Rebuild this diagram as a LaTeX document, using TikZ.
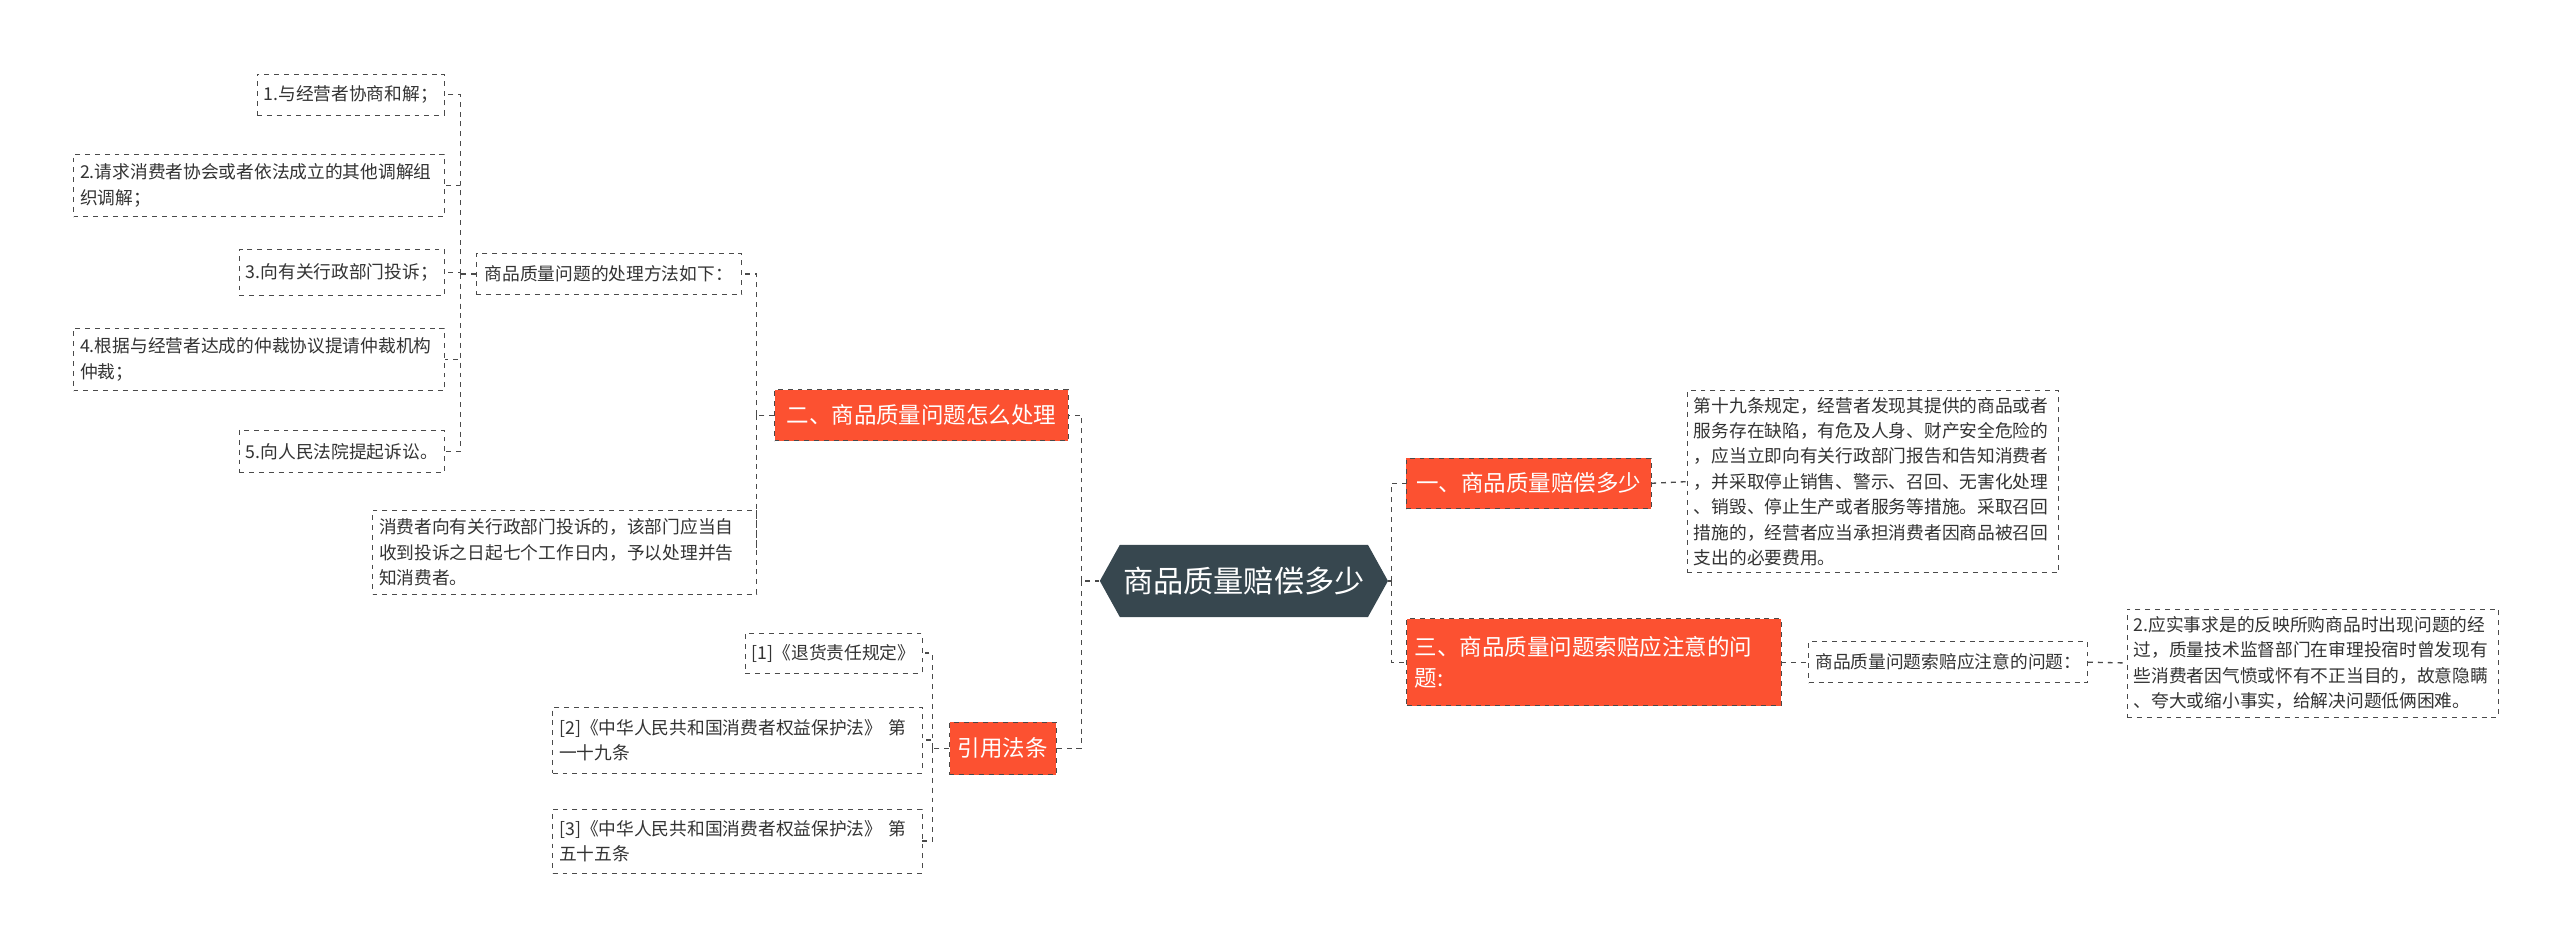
\documentclass[tikz,border=0pt]{standalone}
\usepackage{fontspec}
\setmainfont{Noto Sans CJK SC}
\usetikzlibrary{shapes.symbols}
\definecolor{rootc}{HTML}{37474F}
\definecolor{hotc}{HTML}{FC5131}
\definecolor{linec}{HTML}{4A4A4A}
\tikzset{
  leaf/.style={draw=linec, dashed, fill=white, inner sep=4pt, align=left,
    font=\fontsize{10.8}{15.5}\selectfont, text=black!80},
  topic/.style={draw=linec, dashed, fill=hotc, text=white, inner sep=5pt,
    align=left, font=\fontsize{13.7}{19}\selectfont},
  link/.style={draw=linec, dashed, thick}
}

\begin{document}
\begin{tikzpicture}[x=1pt, y=-1pt]
  \useasboundingbox (0,0) rectangle (1560,576.5);
  \node[signal, signal to=west and east, signal pointer angle=122, fill=rootc,
    text=white, minimum width=174pt, minimum height=44pt, inner sep=2pt,
    font=\fontsize{18.4}{20}\selectfont] at (758,354) (root) {商品质量赔偿多少};

  % left side
  \node[topic, minimum width=179pt, minimum height=31pt] at (561.5,253) (how)
    {二、商品质量问题怎么处理};
  \node[topic, minimum width=58pt, minimum height=32pt] at (611,456) (law)
    {引用法条};
  \node[leaf, minimum width=162pt, minimum height=25pt] at (371,167) (method)
    {商品质量问题的处理方法如下：};
  \node[leaf, anchor=east, minimum height=25pt] at (271,57.5) (m1)
    {1.与经营者协商和解；};
  \node[leaf, anchor=east, text width=218pt, minimum height=38pt] at (271,113) (m2)
    {2.请求消费者协会或者依法成立的其他调解组\\织调解；};
  \node[leaf, anchor=east, minimum height=28pt] at (271,166) (m3)
    {3.向有关行政部门投诉；};
  \node[leaf, anchor=east, text width=218pt, minimum height=38pt] at (271,219) (m4)
    {4.根据与经营者达成的仲裁协议提请仲裁机构\\仲裁；};
  \node[leaf, anchor=east, minimum height=26pt] at (271,275) (m5)
    {5.向人民法院提起诉讼。};
  \node[leaf, text width=226pt, minimum height=51pt] at (344,336.5) (notice)
    {消费者向有关行政部门投诉的，该部门应当自\\收到投诉之日起七个工作日内，予以处理并告\\知消费者。};
  \node[leaf, anchor=east, minimum height=24pt] at (562,398) (l1)
    {[1]《退货责任规定》};
  \node[leaf, anchor=east, text width=217pt, minimum height=40pt] at (562,451) (l2)
    {[2]《中华人民共和国消费者权益保护法》 第\\一十九条};
  \node[leaf, anchor=east, text width=217pt, minimum height=39pt] at (562,512.5) (l3)
    {[3]《中华人民共和国消费者权益保护法》 第\\五十五条};

  % right side
  \node[topic, minimum width=149pt, minimum height=31pt] at (931.5,294.5) (pay)
    {一、商品质量赔偿多少};
  \node[topic, anchor=west, text width=218pt, minimum height=53pt] at (857,403.5)
    (claim) {三、商品质量问题索赔应注意的问\\题:};
  \node[leaf, anchor=west, text width=218pt, minimum height=107pt] at (1028,293.5)
    (rule) {第十九条规定，经营者发现其提供的商品或者\\服务存在缺陷，有危及人身、财产安全危险的\\，应当立即向有关行政部门报告和告知消费者\\，并采取停止销售、警示、召回、无害化处理\\、销毁、停止生产或者服务等措施。采取召回\\措施的，经营者应当承担消费者因商品被召回\\支出的必要费用。};
  \node[leaf, anchor=west, minimum height=25pt] at (1102,403.5) (attn)
    {商品质量问题索赔应注意的问题：};
  \node[leaf, anchor=west, text width=218pt, minimum height=66pt] at (1296,404)
    (fact) {2.应实事求是的反映所购商品时出现问题的经\\过，质量技术监督部门在审理投宿时曾发现有\\些消费者因气愤或怀有不正当目的，故意隐瞒\\、夸大或缩小事实，给解决问题低俩困难。};

  % connectors
  \draw[link] (root.west) -- ++(-11,0) coordinate (jl);
  \draw[link] (jl) |- (how.east);
  \draw[link] (jl) |- (law.east);
  \draw[link] (root.east) -- ++(2,0) coordinate (jr);
  \draw[link] (jr) |- (pay.west);
  \draw[link] (jr) |- (claim.west);
  \draw[link] (how.west) -- ++(-11,0) coordinate (jh);
  \draw[link] (jh) |- (method.east);
  \draw[link] (jh) |- (notice.east);
  \draw[link] (method.west) -- ++(-9,0) coordinate (jm);
  \foreach \n in {m1,m2,m3,m4,m5}
    \draw[link] (jm) |- (\n.east);
  \draw[link] (law.west) -- ++(-10,0) coordinate (jw);
  \foreach \n in {l1,l2,l3}
    \draw[link] (jw) |- (\n.east);
  \draw[link] (pay.east) -- (rule.west);
  \draw[link] (claim.east) -- (attn.west);
  \draw[link] (attn.east) -- (fact.west);
\end{tikzpicture}
\end{document}
